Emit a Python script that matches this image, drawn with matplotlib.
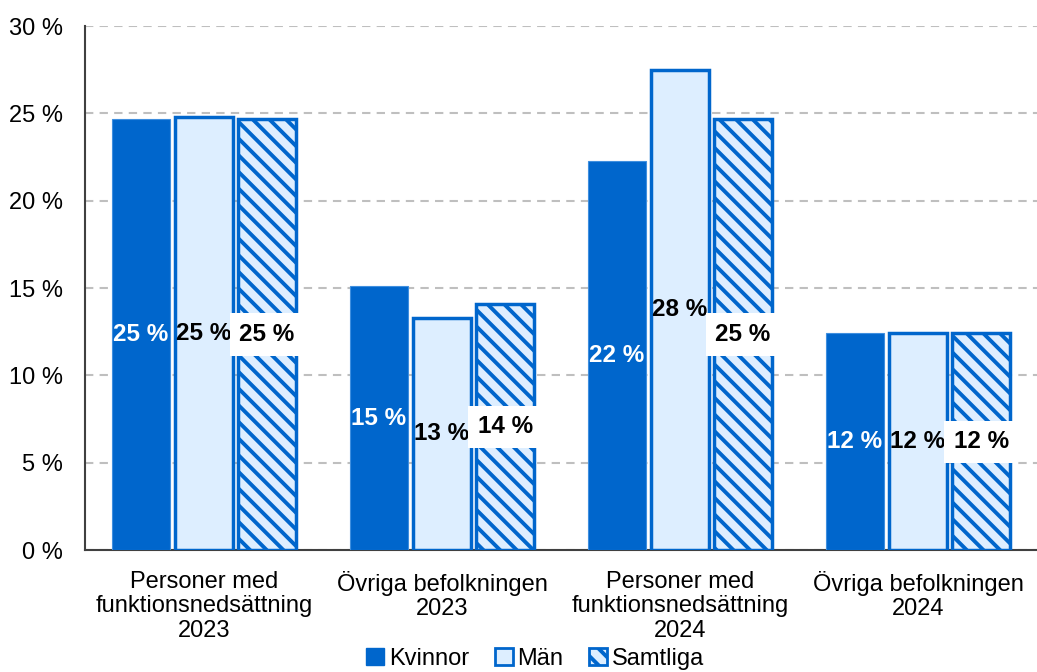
import numpy as np
import matplotlib.pyplot as plt
from matplotlib.patches import Patch

plt.rcParams['font.family'] = ['Liberation Sans', 'DejaVu Sans']
plt.rcParams['hatch.linewidth'] = 2.8

# ==========================
# DATA
# ==========================
categories = ["Personer med\nfunktionsnedsättning\n2023",
              "Övriga befolkningen\n2023",
              "Personer med\nfunktionsnedsättning\n2024",
              "Övriga befolkningen\n2024"]
kvinnor = [24.7, 15.1, 22.3, 12.4]
man = [24.8, 13.3, 27.5, 12.4]
samtliga = [24.7, 14.1, 24.7, 12.4]
yticks = [0, 5, 10, 15, 20, 25, 30]

blue = "#0066CC"
light = "#DDEEFF"

fig = plt.figure(figsize=(10.37, 6.72), dpi=100)
ax = fig.add_axes([0.082, 0.1815, 0.918, 0.7798])

x = np.arange(len(categories))
w = 0.245
off = 0.265

b1 = ax.bar(x - off, kvinnor, w, color=blue, edgecolor="#3F8FDF", linewidth=0.8, zorder=3)
b2 = ax.bar(x, man, w, color=light, edgecolor=blue, linewidth=2.5, zorder=3)
b3 = ax.bar(x + off, samtliga, w, color=light, edgecolor=blue, linewidth=2.5,
            hatch="\\\\", zorder=3)

# etiketter mitt i staplarna
for i in range(len(categories)):
    ax.text(x[i] - off, kvinnor[i] / 2, f"{kvinnor[i]:.0f} %", ha="center", va="center",
            color="white", fontsize=17.5, fontweight="bold", zorder=5)
    ax.text(x[i], man[i] / 2, f"{man[i]:.0f} %", ha="center", va="center",
            color="black", fontsize=17.5, fontweight="bold", zorder=5)
    ax.text(x[i] + off, samtliga[i] / 2, f"{samtliga[i]:.0f} %", ha="center", va="center",
            color="black", fontsize=17.5, fontweight="bold", zorder=5,
            bbox=dict(facecolor="white", edgecolor="none", pad=7))

ax.set_xlim(-0.5, 3.5)
ax.set_ylim(0, 30)
ax.set_yticks(yticks)
ax.set_yticklabels([f"{t} %" for t in yticks], fontsize=17)
ax.set_xticks(x)
ax.set_xticklabels(categories, fontsize=17, linespacing=1.15)
ax.tick_params(length=0)
ax.tick_params(axis="x", pad=15)
ax.tick_params(axis="y", pad=16)

ax.grid(axis="y", color="#BFBFBF", linestyle=(0, (4, 3)), linewidth=1.5, zorder=0)
ax.spines["top"].set_visible(False)
ax.spines["right"].set_visible(False)
ax.spines["left"].set_color("#404040")
ax.spines["bottom"].set_color("#404040")
ax.spines["left"].set_linewidth(1.5)
ax.spines["bottom"].set_linewidth(1.5)

handles = [Patch(facecolor=blue, edgecolor=blue),
           Patch(facecolor=light, edgecolor=blue, linewidth=2),
           Patch(facecolor=light, edgecolor=blue, linewidth=2, hatch="\\\\")]
fig.legend(handles, ["Kvinnor", "Män", "Samtliga"], loc="lower center",
           bbox_to_anchor=(0.516, -0.014), ncol=3, frameon=False, fontsize=17,
           handlelength=0.75, handleheight=0.75, handletextpad=0.2, columnspacing=1.1,
           borderpad=0)

fig.savefig("out.png", dpi=100)
